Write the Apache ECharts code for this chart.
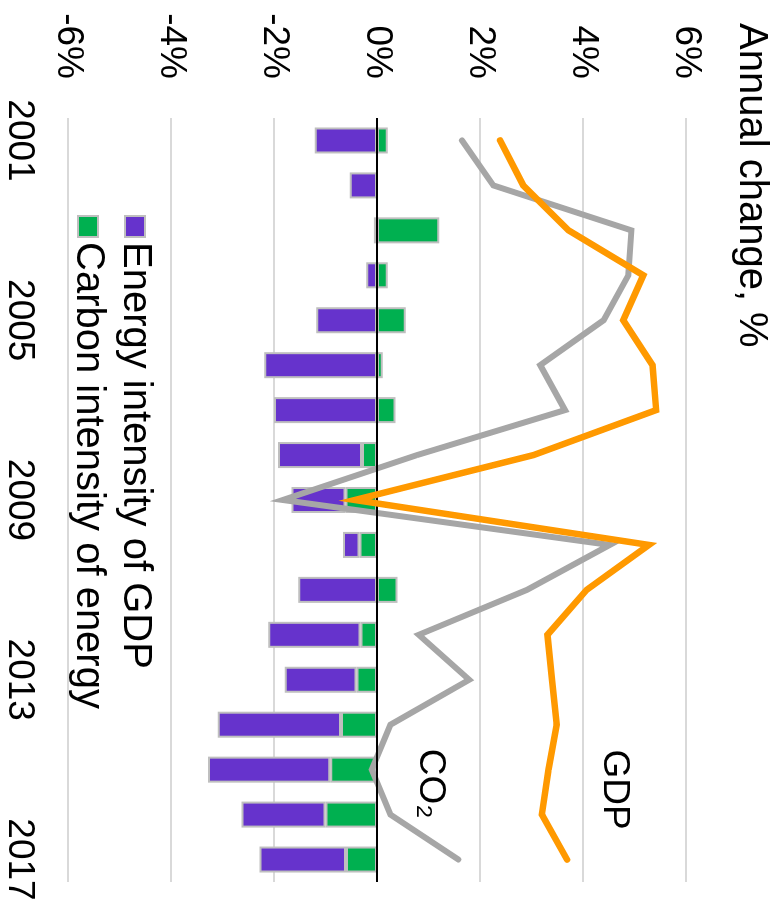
<!DOCTYPE html>
<html>
<head>
<meta charset="utf-8">
<script src="https://cdn.jsdelivr.net/npm/echarts@6/dist/echarts.min.js"></script>
<style>
html,body{margin:0;padding:0;background:#fff;overflow:hidden;width:778px;height:904px;}
#chart{position:absolute;left:0;top:0;width:904px;height:778px;transform-origin:0 0;transform:translate(778px,0) rotate(90deg);}
</style>
</head>
<body>
<div id="chart"></div>
<script>
// Data
const years = ['2001','2002','2003','2004','2005','2006','2007','2008','2009','2010','2011','2012','2013','2014','2015','2016','2017'];
const energyIntensityOfGDP = [-1.21,-0.53,-0.06,-0.21,-1.18,-2.19,-2.00,-1.63,-1.05,-0.32,-1.53,-1.79,-1.39,-2.39,-2.37,-1.63,-1.68];
const carbonIntensityOfEnergy = [0.21,0.00,1.21,0.21,0.56,0.11,0.36,-0.29,-0.61,-0.34,0.40,-0.32,-0.40,-0.70,-0.91,-1.00,-0.60];
const gdp = [2.39,2.84,3.72,5.17,4.78,5.35,5.42,3.04,-0.43,5.28,4.07,3.31,3.40,3.49,3.33,3.20,3.69];
const co2 = [1.65,2.26,4.94,4.88,4.40,3.17,3.65,0.78,-1.83,4.52,2.91,0.81,1.79,0.26,-0.10,0.26,1.58];
const valueTicks = { min: -6, max: 6, interval: 2 };
const titleText = 'Annual change, %';
const legendNames = ['Energy intensity of GDP', 'Carbon intensity of energy'];
const lineLabels = { gdp: { text: 'GDP', year: '2015', value: 4.6 }, co2: { text: 'CO\u2082', year: '2015', value: 1.03 } };

const FONT = '"Liberation Sans", Arial, Helvetica, sans-serif';
const chart = echarts.init(document.getElementById('chart'), null, { renderer: 'canvas' });

const barBorder = { borderColor: '#bfbfbf', borderWidth: 2 };

chart.setOption({
  animation: false,
  backgroundColor: '#ffffff',
  textStyle: { fontFamily: FONT },
  title: {
    text: titleText,
    left: 23, top: 7, padding: 0,
    textStyle: { fontFamily: FONT, fontSize: 40, fontWeight: 'normal', color: '#000' }
  },
  legend: {
    data: legendNames,
    orient: 'vertical',
    left: 215, top: 623, padding: 0,
    itemWidth: 21, itemHeight: 20, itemGap: 7,
    icon: 'rect',
    itemStyle: { borderColor: '#bfbfbf', borderWidth: 2 },
    textStyle: { fontFamily: FONT, fontSize: 40, color: '#000' }
  },
  grid: { left: 118, right: 22, top: 92, bottom: 68, containLabel: false },
  xAxis: {
    type: 'category',
    data: years,
    boundaryGap: true,
    axisLine: { show: false },
    axisTick: { show: false },
    axisLabel: { interval: 3, fontFamily: FONT, fontSize: 37, color: '#000', margin: 30 },
    splitLine: { show: false }
  },
  yAxis: {
    type: 'value',
    min: valueTicks.min, max: valueTicks.max, interval: valueTicks.interval,
    axisLine: { show: false },
    axisTick: { show: false },
    axisLabel: { formatter: v => v + '%', fontFamily: FONT, fontSize: 37, color: '#000', margin: 39 },
    splitLine: { show: true, lineStyle: { color: '#d9d9d9', width: 2 } }
  },
  series: [
    {
      name: legendNames[1], type: 'bar', stack: 'decomp',
      data: carbonIntensityOfEnergy, barWidth: 26,
      itemStyle: Object.assign({ color: '#00b050' }, barBorder)
    },
    {
      name: legendNames[0], type: 'bar', stack: 'decomp',
      data: energyIntensityOfGDP, barWidth: 26,
      itemStyle: Object.assign({ color: '#6633cc' }, barBorder),
      markLine: {
        silent: true, symbol: ['none', 'none'], label: { show: false },
        lineStyle: { color: '#000', width: 2, type: 'solid' },
        data: [{ yAxis: 0 }]
      }
    },
    {
      name: 'CO2', type: 'line', data: co2, symbol: 'none', z: 4,
      lineStyle: { color: '#a6a6a6', width: 6, cap: 'round', join: 'miter' },
      markPoint: {
        symbol: 'rect', symbolSize: 1, itemStyle: { color: 'rgba(0,0,0,0)' },
        label: { show: true, position: 'inside', fontFamily: FONT, fontSize: 37, color: '#000' },
        data: [{ coord: [lineLabels.co2.year, lineLabels.co2.value], label: { formatter: lineLabels.co2.text, offset: [14, 0] } }]
      }
    },
    {
      name: 'GDP', type: 'line', data: gdp, symbol: 'none', z: 5,
      lineStyle: { color: '#ff9900', width: 6.5, cap: 'round', join: 'miter' },
      markPoint: {
        symbol: 'rect', symbolSize: 1, itemStyle: { color: 'rgba(0,0,0,0)' },
        label: { show: true, position: 'inside', fontFamily: FONT, fontSize: 37, color: '#000' },
        data: [{ coord: [lineLabels.gdp.year, lineLabels.gdp.value], label: { formatter: lineLabels.gdp.text, offset: [20, 0] } }]
      }
    }
  ]
});
</script>
</body>
</html>
